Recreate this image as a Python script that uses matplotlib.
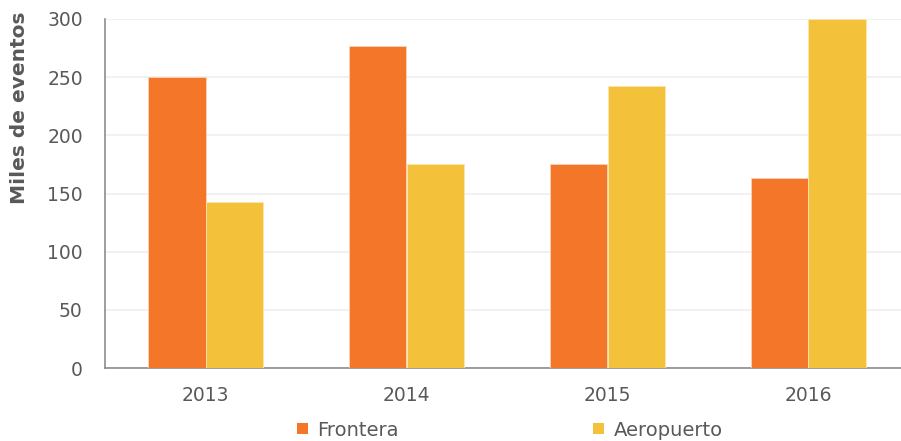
import matplotlib
matplotlib.use("Agg")
import matplotlib.pyplot as plt
import numpy as np

years = ["2013", "2014", "2015", "2016"]
frontera = [250, 277, 175, 163]
aeropuerto = [143, 175, 242, 300]
yticks = [0, 50, 100, 150, 200, 250, 300]

c_front = "#F47729"
c_aero = "#F4C13A"
txt = "#595959"

fig = plt.figure(figsize=(9.01, 4.41), dpi=100)
ax = fig.add_axes([105/901, 1-368/441, 804/901, (368-19)/441])

x = np.arange(len(years))
w = 0.284
ax.bar(x - w/2, frontera, width=w, color=c_front, edgecolor="#FBD3B8", linewidth=0.6, zorder=3, label="Frontera")
ax.bar(x + w/2, aeropuerto, width=w, color=c_aero, edgecolor="#FBE6B0", linewidth=0.6, zorder=3, label="Aeropuerto")

ax.set_xlim(-0.5, len(years) - 0.5)
ax.set_ylim(0, 300)
ax.set_yticks(yticks)
ax.set_xticks(x)
ax.set_xticklabels(years)
ax.yaxis.grid(True, color="#EFEFEF", linewidth=1.2, zorder=0)
ax.set_axisbelow(True)
for s in ["top", "right"]:
    ax.spines[s].set_visible(False)
for s in ["left", "bottom"]:
    ax.spines[s].set_color("#8C8C8C")
    ax.spines[s].set_linewidth(1.2)
ax.tick_params(axis="both", length=0, labelsize=13.5, labelcolor=txt)
ax.tick_params(axis="y", pad=16)
ax.tick_params(axis="x", pad=13)

fig.text(20/901, 1-108/441, "Miles de eventos", rotation=90, ha="center", va="center",
         fontsize=14.5, fontweight="bold", color=txt)

leg = fig.legend(loc="center", bbox_to_anchor=(510/901, 1-430/441), ncol=2, frameon=False,
                 fontsize=14, handlelength=0.55, handleheight=0.55, handletextpad=0.5,
                 columnspacing=10.0)
for t in leg.get_texts():
    t.set_color(txt)
for h in leg.legend_handles:
    h.set_edgecolor("none")

fig.savefig("out.png", dpi=100)
